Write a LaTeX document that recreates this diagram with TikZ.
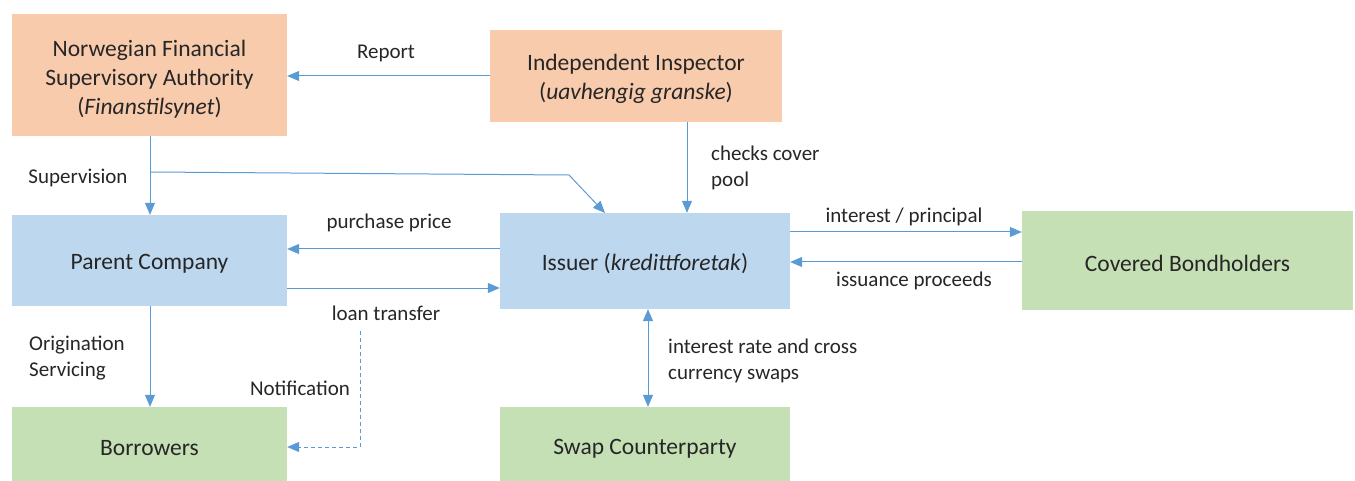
\documentclass[tikz,border=0pt]{standalone}
\usepackage{fontspec}
\setmainfont{Carlito}
\usetikzlibrary{arrows.meta}
\definecolor{orangebox}{HTML}{F8CBAD}
\definecolor{bluebox}{HTML}{BDD7EE}
\definecolor{greenbox}{HTML}{C5E0B4}
\definecolor{arrowc}{HTML}{5B9BD5}
\definecolor{txt}{HTML}{262626}
\tikzset{
  box/.style={inner sep=0pt},
  boxtext/.style={inner sep=0pt, text=txt, font=\fontsize{23.5}{29}\selectfont, align=center},
  orangebox/.style={box, fill=orangebox},
  bluebox/.style={box, fill=bluebox},
  greenbox/.style={box, fill=greenbox},
  conn/.style={draw=arrowc, line width=1pt, -{Triangle[length=12pt,width=10pt]}},
  lbl/.style={text=txt, font=\fontsize{21}{26}\selectfont, inner sep=0pt},
}
\begin{document}
\begin{tikzpicture}[x=1pt,y=-1pt]
\useasboundingbox (0,0) rectangle (1355,481);
% boxes
\node[orangebox, minimum width=275pt, minimum height=122pt] (nfsa) at (149.5,75) {};
\node[orangebox, minimum width=292pt, minimum height=92pt] (insp) at (636,76) {};
\node[bluebox, minimum width=275pt, minimum height=91pt] (parent) at (149.5,260.5) {};
\node[bluebox, minimum width=290pt, minimum height=96pt] (issuer) at (645,261) {};
\node[greenbox, minimum width=331pt, minimum height=99pt] (bond) at (1187.5,260.5) {};
\node[greenbox, minimum width=275pt, minimum height=74pt] (borr) at (149.5,444) {};
\node[greenbox, minimum width=290pt, minimum height=74pt] (swap) at (645,444) {};
% box texts
\node[boxtext] (nfsaT) at ([yshift=-4pt]nfsa.center) {Norwegian Financial\\Supervisory Authority\\(\textit{Finanstilsynet})};
\node[boxtext] (inspT) at ([yshift=-3pt]insp.center) {Independent Inspector\\(\textit{uavhengig granske})};
\node[boxtext] (parentT) at ([yshift=-3pt]parent.center) {Parent Company};
\node[boxtext] (issuerT) at ([yshift=-3pt]issuer.center) {Issuer (\textit{kredittforetak})};
\node[boxtext] (bondT) at ([yshift=-3pt]bond.center) {Covered Bondholders};
\node[boxtext] (borrT) at ([yshift=-4pt]borr.center) {Borrowers};
\node[boxtext] (swapT) at ([yshift=-5pt]swap.center) {Swap Counterparty};
% coordinates
\coordinate (supA) at (150,172);
\coordinate (supB) at (569,175);
\coordinate (dashA) at (360,331);
\coordinate (dashB) at (360,447);
% connectors
\draw[conn] (insp.west) -- (nfsa.east |- insp.west);
\draw[conn] (nfsa.south -| 150,0) -- (parent.north -| 150,0);
\draw[draw=arrowc, line width=1pt] (supA) -- (supB);
\draw[conn] (supB) -- (605,213) coordinate (supC);
\draw[conn] (insp.south -| 687,0) -- (issuer.north -| 687,0);
\draw[conn] (issuer.west |- 0,249) -- (parent.east |- 0,249);
\draw[conn] (parent.east |- 0,288) -- (issuer.west |- 0,288);
\draw[conn] (parent.south -| 150,0) -- (borr.north -| 150,0);
\draw[conn] (issuer.east |- 0,232) -- (bond.west |- 0,232);
\draw[conn] (bond.west |- 0,262) -- (issuer.east |- 0,262);
\draw[draw=arrowc, line width=1pt, {Triangle[length=12pt,width=10pt]}-{Triangle[length=12pt,width=10pt]}] (issuer.south -| 648,0) -- (swap.north -| 648,0);
\draw[draw=arrowc, line width=1pt, dash pattern=on 4pt off 3pt, -{Triangle[length=12pt,width=10pt]}] (dashA) -- (dashB) -- (borr.east |- dashB);
% labels
\node[lbl] (lreport) at (386,53) {Report};
\node[lbl] (lsup) at (78,178) {Supervision};
\node[lbl, anchor=west, align=left] (lcheck) at (711,168) {checks cover\\pool};
\node[lbl] (lpp) at (389,223) {purchase price};
\node[lbl] (llt) at (386,313) {loan transfer};
\node[lbl] (lnot) at (300,388) {Notification};
\node[lbl, anchor=west, align=left] (lorig) at (29,358) {Origination\\Servicing};
\node[lbl] (lip) at (904,217) {interest / principal};
\node[lbl] (lproc) at (914,281) {issuance proceeds};
\node[lbl, anchor=west, align=left] (lswap) at (668,361) {interest rate and cross\\currency swaps};
\end{tikzpicture}
\end{document}
